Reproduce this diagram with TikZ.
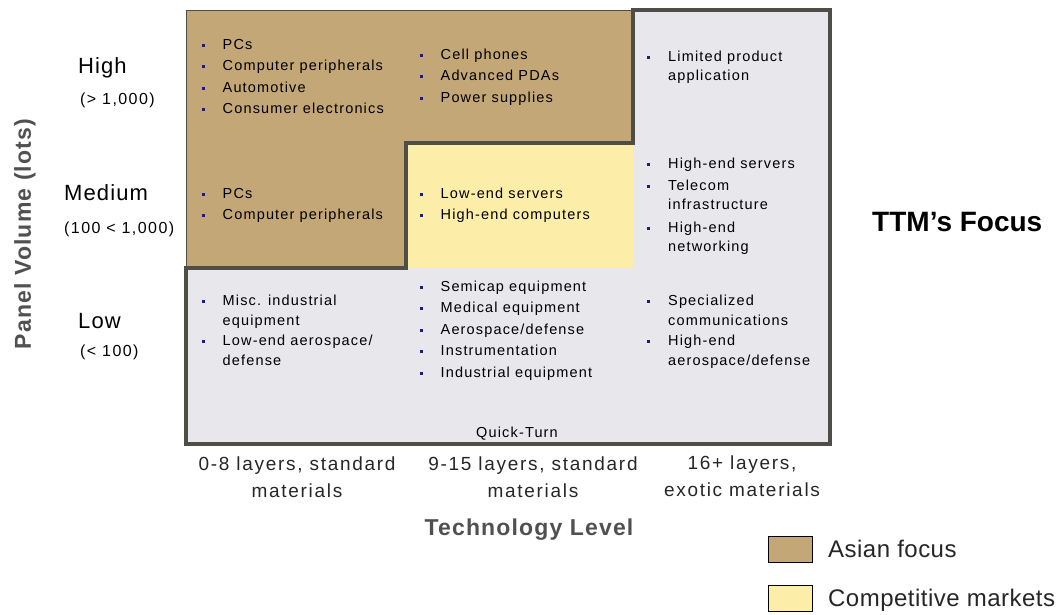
\documentclass[tikz,border=0pt]{standalone}
\usepackage{fontspec}
\setmainfont{Liberation Sans}
\newfontfamily\cellfont[LetterSpace=8]{Liberation Sans}
\newfontfamily\labelfont[LetterSpace=9]{Liberation Sans}
\newfontfamily\headfont[LetterSpace=5]{Liberation Sans}
\newfontfamily\legfont[LetterSpace=2]{Liberation Sans}

\definecolor{framegray}{HTML}{4E4E47}
\definecolor{panelgray}{HTML}{E7E7EC}
\definecolor{asian}{HTML}{C4A777}
\definecolor{compet}{HTML}{FCEDA8}
\definecolor{bulletblue}{HTML}{1C1C85}
\definecolor{axisgray}{HTML}{505050}

% bullet marker and hanging indent for the cell lists
\newcommand{\bul}{\makebox[21pt][l]{\textcolor{bulletblue}{\rule[2.4pt]{3pt}{3pt}}}}
\newcommand{\cont}{\hspace*{21pt}}
\newcommand{\lst}[1]{\begin{tabular}[t]{@{}l@{}}#1\end{tabular}}

\tikzset{
  cell/.style={anchor=base west, inner sep=0pt, font=\cellfont\fontsize{14.5}{19.5}\selectfont},
  level/.style={anchor=base west, inner sep=0pt, font=\headfont\fontsize{22}{24}\selectfont},
  levelrange/.style={anchor=base west, inner sep=0pt, font=\labelfont\fontsize{16}{18}\selectfont},
  techlabel/.style={anchor=base, inner sep=0pt, align=center, text=black!85,
    font=\labelfont\fontsize{19}{26.5}\selectfont},
  axistitle/.style={inner sep=0pt, text=axisgray, font=\headfont\bfseries\fontsize{23}{26}\selectfont},
  legendbox/.style={draw=black, line width=0.8pt},
  legendtext/.style={anchor=base west, inner sep=0pt, font=\legfont\fontsize{24}{26}\selectfont, text=black!85},
}

\begin{document}
\begin{tikzpicture}[x=1pt,y=-1pt]
\useasboundingbox (0,0) rectangle (1057,614);

% grid coordinates
\def\L{186}\def\R{830}\def\T{10}\def\B{444}
\def\xa{406}\def\xb{633}\def\ya{143}\def\yb{268}

% panel background
\fill[panelgray] (\L,\T) rectangle (\R,\B);
% competitive markets block
\fill[compet] (\xa,\ya) rectangle (\xb,\yb);
% Asian focus block
\filldraw[fill=asian, draw=framegray, line width=0.8pt]
  (\L,\T) -- (\xb,\T) -- (\xb,\ya) -- (\xa,\ya) -- (\xa,\yb) -- (\L,\yb) -- cycle;
% outline of the focus area
\draw[framegray, line width=4.5pt, line join=miter]
  (\xb,\T) -- (\R,\T) -- (\R,\B) -- (\L,\B) -- (\L,\yb) -- (\xa,\yb) -- (\xa,\ya) -- (\xb,\ya) -- cycle;

% ---- cell contents: high volume
\node[cell] (hi1) at (201.5,49) {\lst{\bul PCs\\[2pt] \bul Computer peripherals\\[2pt] \bul Automotive\\[2pt] \bul Consumer electronics}};
\node[cell] (hi2) at (419.5,59) {\lst{\bul Cell phones\\[2pt] \bul Advanced PDAs\\[2pt] \bul Power supplies}};
\node[cell] (hi3) at (647,61) {\lst{\bul Limited product\\ \cont application}};

% ---- medium volume
\node[cell] (me1) at (201.5,198) {\lst{\bul PCs\\[2pt] \bul Computer peripherals}};
\node[cell] (me2) at (419.5,198) {\lst{\bul Low-end servers\\[2pt] \bul High-end computers}};
\node[cell] (me3) at (647,168) {\lst{\bul High-end servers\\[2.5pt] \bul Telecom\\ \cont infrastructure\\[3pt] \bul High-end\\ \cont networking}};

% ---- low volume
\node[cell] (lo1) at (201.5,305) {\lst{\bul Misc. industrial\\[0.5pt] \cont equipment\\[0.5pt] \bul Low-end aerospace/\\[0.5pt] \cont defense}};
\node[cell] (lo2) at (419.5,291) {\lst{\bul Semicap equipment\\[2pt] \bul Medical equipment\\[2pt] \bul Aerospace/defense\\[2pt] \bul Instrumentation\\[2pt] \bul Industrial equipment}};
\node[cell] (lo3) at (647,305) {\lst{\bul Specialized\\[0.5pt] \cont communications\\[0.5pt] \bul High-end\\[0.5pt] \cont aerospace/defense}};
\node[cell, anchor=base] (qt) at (517,437) {Quick-Turn};

% ---- volume axis
\node[level] (high) at (78,73) {High};
\node[levelrange] (highr) at (80,104) {(> 1,000)};
\node[level] (med) at (64,200) {Medium};
\node[levelrange] (medr) at (64,233) {(100 < 1,000)};
\node[level] (low) at (78,328) {Low};
\node[levelrange] (lowr) at (80,356) {(< 100)};
\node[axistitle, rotate=90] (vaxis) at (25,234) {Panel Volume (lots)};

% ---- technology axis (anchored on the second line)
\node[techlabel] (t1) at (297,497) {0-8 layers, standard\\materials};
\node[techlabel] (t2) at (533,497) {9-15 layers, standard\\materials};
\node[techlabel] (t3) at (742,496) {16+ layers,\\exotic materials};
\node[axistitle, anchor=base] (taxis) at (529,535) {Technology Level};

% ---- focus label
\node[anchor=base west, inner sep=0pt, font=\bfseries\fontsize{28}{30}\selectfont] (ttm) at (872,231) {TTM’s Focus};

% ---- legend
\node[legendbox, fill=asian, minimum width=44pt, minimum height=26pt, inner sep=0pt] (leg1) at (790,549) {};
\node[legendtext] (leg1t) at (828,557) {Asian focus};
\node[legendbox, fill=compet, minimum width=44pt, minimum height=26pt, inner sep=0pt] (leg2) at (790,598) {};
\node[legendtext] (leg2t) at (828,606) {Competitive markets};
\end{tikzpicture}
\end{document}
